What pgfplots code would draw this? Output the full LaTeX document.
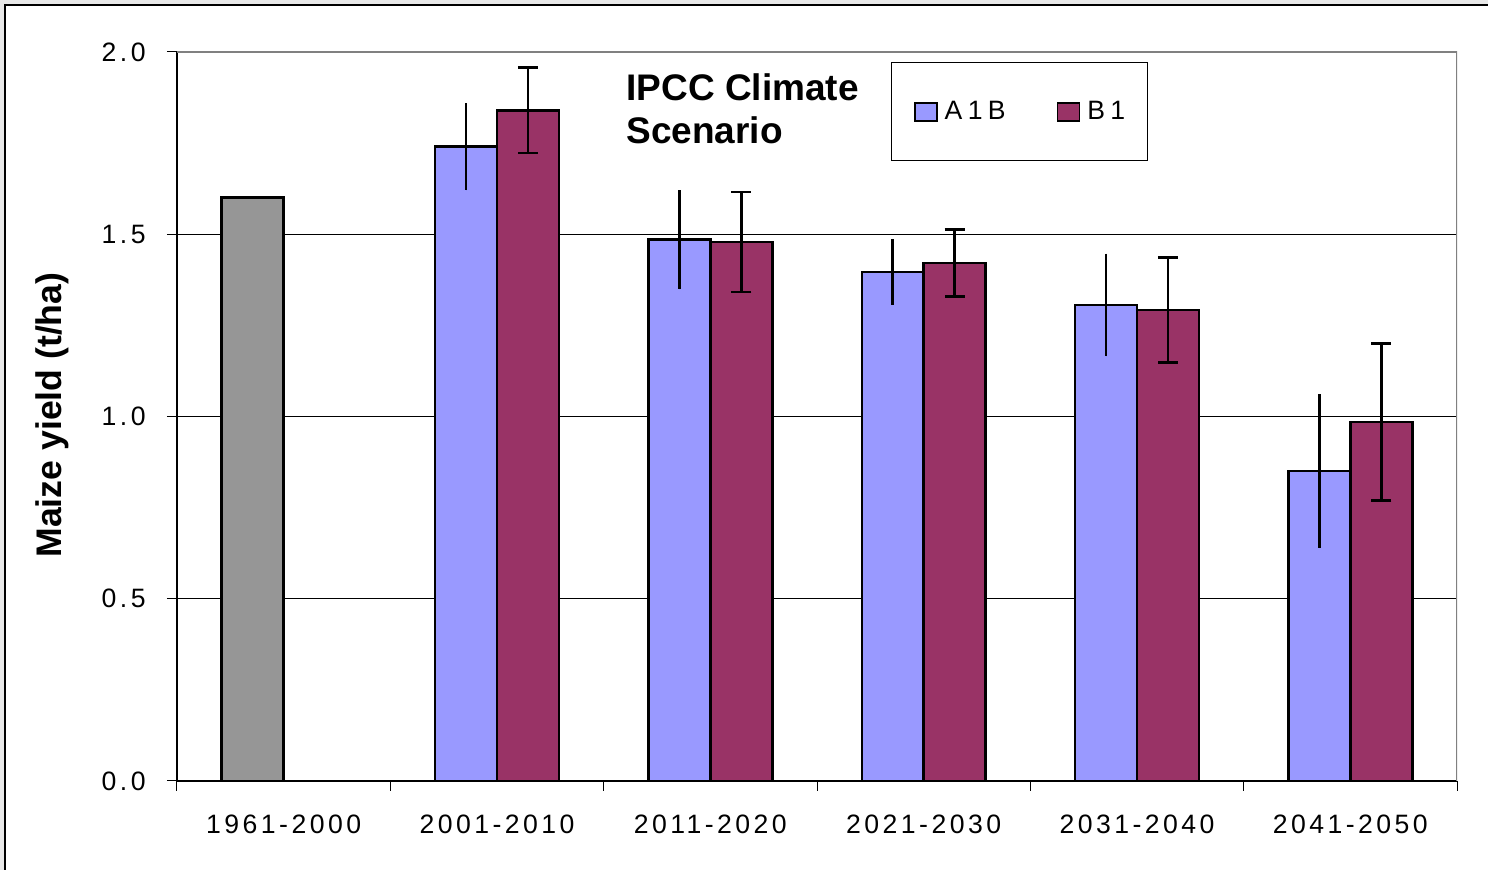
\documentclass[border=0pt]{standalone}
\usepackage{pgfplots}
\usepackage{pgfplotstable}
\pgfplotsset{compat=1.18}
\usepackage{fontspec}
\setmainfont{Liberation Sans}
\newfontfamily\tickfont[LetterSpace=13]{Liberation Sans}
\newfontfamily\legfont[LetterSpace=20]{Liberation Sans}

\definecolor{barA}{RGB}{153,153,255}
\definecolor{barB}{RGB}{153,51,102}
\definecolor{barBase}{RGB}{150,150,150}
\definecolor{bgband}{RGB}{232,232,232}
\definecolor{frameGray}{RGB}{128,128,128}

% bar position (category index -/+ half a bar), mean yield, half-width of the error bar
\pgfplotstableread{
x y e
0.855 1.740 0.120
1.855 1.485 0.136
2.855 1.396 0.090
3.855 1.306 0.141
4.855 0.850 0.211
}\tabA
\pgfplotstableread{
x y e
1.145 1.840 0.117
2.145 1.479 0.137
3.145 1.421 0.092
4.145 1.292 0.144
5.145 0.985 0.215
}\tabB

\begin{document}
\begin{tikzpicture}
\useasboundingbox (0,0) rectangle (744pt,435pt);
\begin{scope}
  \clip (0,0) rectangle (744pt,435pt);
  \fill[bgband] (0,0) rectangle (744pt,435pt);
  \filldraw[fill=white, draw=black, line width=1pt] (2.5pt,-10pt) rectangle (760pt,432.5pt);
\end{scope}
\begin{axis}[
  at={(88.5pt,44.5pt)}, anchor=south west,
  scale only axis, width=640pt, height=364.5pt,
  xmin=-0.5, xmax=5.5, ymin=0, ymax=2,
  axis lines*=left,
  axis line style={black, line width=0.75pt},
  xtick={-0.5,0.5,...,5.5},
  x tick label as interval,
  xticklabels={1961-2000,2001-2010,2011-2020,2021-2030,2031-2040,2041-2050},
  ytick={0,0.5,1,1.5,2},
  tick align=outside,
  major tick length=5pt,
  tick style={black, line width=0.5pt},
  ymajorgrids,
  major grid style={black, line width=0.5pt},
  xticklabel style={font=\tickfont\fontsize{13.3}{15}\selectfont, inner sep=0pt, anchor=north, yshift=-12pt},
  yticklabel style={font=\tickfont\fontsize{13.3}{15}\selectfont, inner sep=0pt, anchor=east, xshift=-10.5pt},
  /pgf/number format/.cd, fixed, fixed zerofill, precision=1, assume math mode=true,
  /pgfplots/.cd,
  ylabel={Maize yield (t/ha)},
  ylabel style={font=\bfseries\fontsize{17.8}{20}\selectfont, at={(rel axis cs:-0.0977,0.502)}, anchor=center},
  legend columns=2,
  legend image code/.code={\draw[#1, line width=0.9pt] (0pt,-4.5pt) rectangle (11pt,4.5pt);},
  legend style={at={(rel axis cs:0.5578,0.9863)}, anchor=north west,
    draw=black, line width=0.5pt, inner xsep=11.2pt, inner ysep=19.25pt,
    font=\legfont\fontsize{13.3}{15}\selectfont,
    nodes={inner sep=0pt},
    /tikz/every odd column/.append style={column sep=3.5pt},
    /tikz/every even column/.append style={column sep=25.5pt}},
  bar width=0.29,
]
% 1961-2000 baseline
\addplot[ybar, bar shift=0pt, fill=barBase, draw=black, line width=1.3pt, forget plot]
  coordinates {(-0.145,1.60)};
% A1B scenario
\addplot[ybar, bar shift=0pt, fill=barA, draw=black, line width=1.3pt,
  error bars/.cd, y dir=both, y explicit, error mark=none,
  error bar style={line width=1.25pt, black}]
  table[x=x, y=y, y error=e]{\tabA};
\addlegendentry{A1B}
% B1 scenario
\addplot[ybar, bar shift=0pt, fill=barB, draw=black, line width=1.3pt,
  error bars/.cd, y dir=both, y explicit, error mark=|,
  error mark options={black, line width=1.25pt, mark size=5pt},
  error bar style={line width=1.25pt, black}]
  table[x=x, y=y, y error=e]{\tabB};
\addlegendentry{B1}
% upper and right edges of the plot area
\draw[frameGray, line width=1pt] (rel axis cs:0,1) -- (rel axis cs:1,1) -- (rel axis cs:1,0);
\node[anchor=north west, inner sep=0pt, align=left,
  font=\bfseries\fontsize{18.5}{21.5}\selectfont]
  at (rel axis cs:0.3508,0.9712) {IPCC Climate\\Scenario};
\end{axis}
\end{tikzpicture}
\end{document}
